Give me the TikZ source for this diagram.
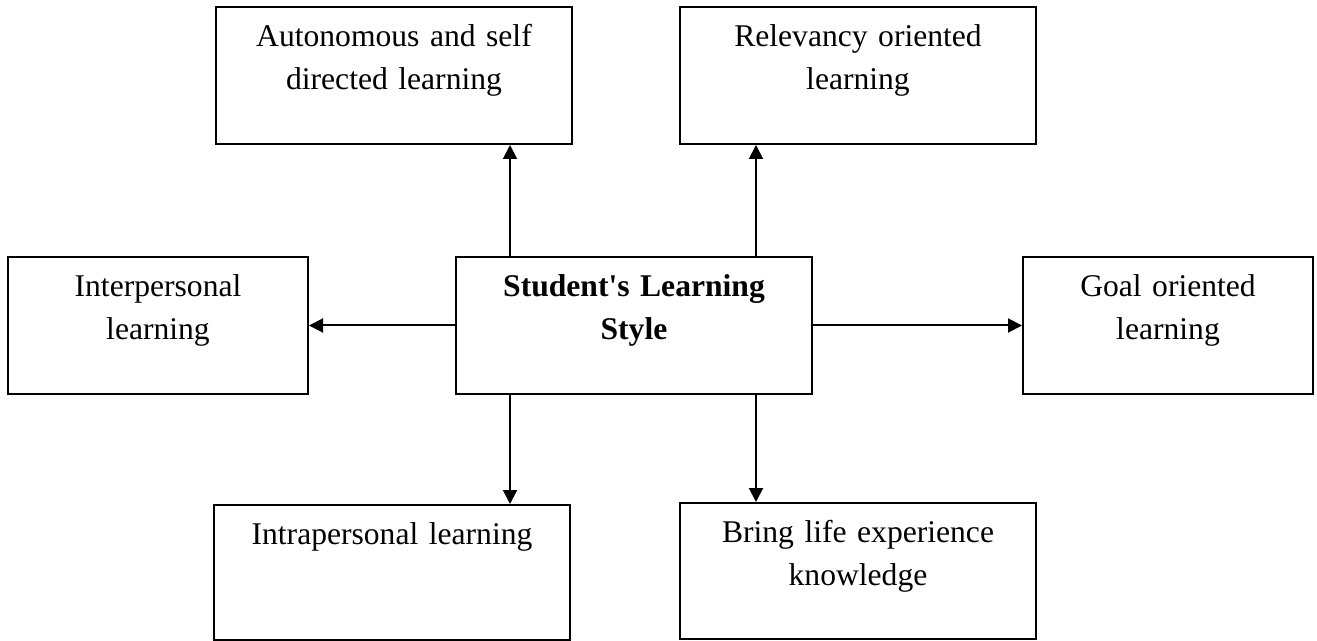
\documentclass[tikz,border=0pt]{standalone}
\usepackage{fontspec}
\setmainfont{Liberation Serif}[Ligatures=TeXOff]
\usetikzlibrary{arrows.meta}

\begin{document}
\begin{tikzpicture}[x=0.5pt, y=-0.5pt,
    boxnode/.style={rectangle, draw=black, line width=1pt, inner sep=0pt, align=center, text width=#1, font=\fontsize{15.8}{21.5}\selectfont, text height=20pt, text depth=48.5pt},
    boxnode/.default=178pt,
    arrowline/.style={line width=1pt, -{Triangle[length=7pt, width=7pt]}}]
    \useasboundingbox (0,0) rectangle (1317,641);

    %Nodes
    \node[boxnode]                 (auto)  at (394,75.5)   {Autonomous and self\\directed learning};
    \node[boxnode]                 (relev) at (858,75.5)   {Relevancy oriented\\learning};
    \node[boxnode=150pt]           (inter) at (158,325.5)  {Interpersonal\\learning};
    \node[boxnode, font=\fontsize{15.8}{21.5}\selectfont\bfseries]
                                   (core)  at (634,325.5)  {Student's Learning\\Style};
    \node[boxnode=145pt]           (goal)  at (1168,325.5) {Goal oriented\\learning};
    \node[boxnode, text depth=47.5pt] (intra) at (392,572.5) {Intrapersonal learning};
    \node[boxnode, text height=19.5pt] (bring) at (858,571) {Bring life experience\\knowledge};

    %Lines
    \draw[arrowline] ([xshift=-62pt]core.north) -- ([xshift=-62pt]core.north |- auto.south);
    \draw[arrowline] ([xshift=61pt]core.north) -- ([xshift=61pt]core.north |- relev.south);
    \draw[arrowline] (core.west) -- (inter.east);
    \draw[arrowline] (core.east) -- (goal.west);
    \draw[arrowline] ([xshift=-62pt]core.south) -- ([xshift=-62pt]core.south |- intra.north);
    \draw[arrowline] ([xshift=61pt]core.south) -- ([xshift=61pt]core.south |- bring.north);
\end{tikzpicture}
\end{document}
